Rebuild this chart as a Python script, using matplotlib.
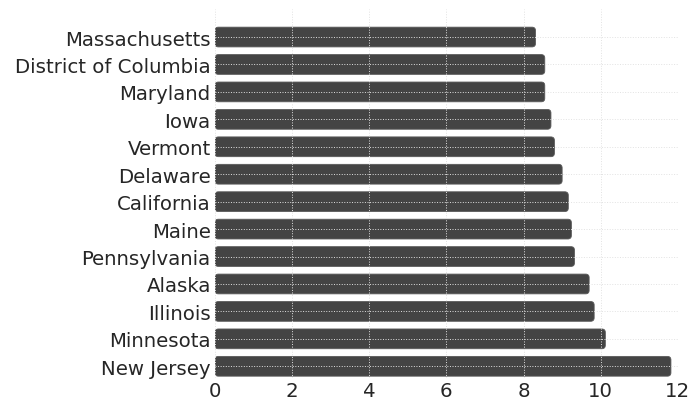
import numpy as np
import matplotlib.pyplot as plt
from matplotlib.patches import FancyBboxPatch

# Datos (de abajo hacia arriba)
states = ['New Jersey', 'Minnesota', 'Illinois', 'Alaska', 'Pennsylvania', 'Maine',
          'California', 'Delaware', 'Vermont', 'Iowa', 'Maryland',
          'District of Columbia', 'Massachusetts']
values = [11.82, 10.12, 9.83, 9.70, 9.32, 9.24, 9.16, 9.00, 8.80, 8.71, 8.55, 8.55, 8.31]

fig = plt.figure(figsize=(6.91, 4.02), dpi=100)
ax = fig.add_axes([0.311, 0.057, 0.670, 0.918])

y = np.arange(len(states))
bars = ax.barh(y, values, height=0.72, color='#444444')

# esquinas redondeadas
for b in bars:
    x0, y0 = b.get_x(), b.get_y()
    w, h = b.get_width(), b.get_height()
    b.set_visible(False)
    p = FancyBboxPatch((x0, y0), w, h, boxstyle='round,pad=0,rounding_size=0.09',
                       mutation_aspect=1.41, facecolor='#444444',
                       edgecolor='#5a5a5a', linewidth=0.6, zorder=2)
    ax.add_patch(p)

ax.set_xlim(0, 12)
ax.set_ylim(-0.43, 13.02)
ax.set_xticks(range(0, 13, 2))
ax.set_yticks(y)
ax.set_yticklabels(states)
ax.tick_params(axis='both', length=0, labelsize=14.2, colors='#262626', pad=3)
ax.tick_params(axis='x', pad=2)

ax.set_axisbelow(False)
ax.grid(True, linestyle=':', color='#e2e2e2', linewidth=0.7, zorder=3)
for s in ax.spines.values():
    s.set_visible(False)

plt.savefig('out.png', dpi=100)
